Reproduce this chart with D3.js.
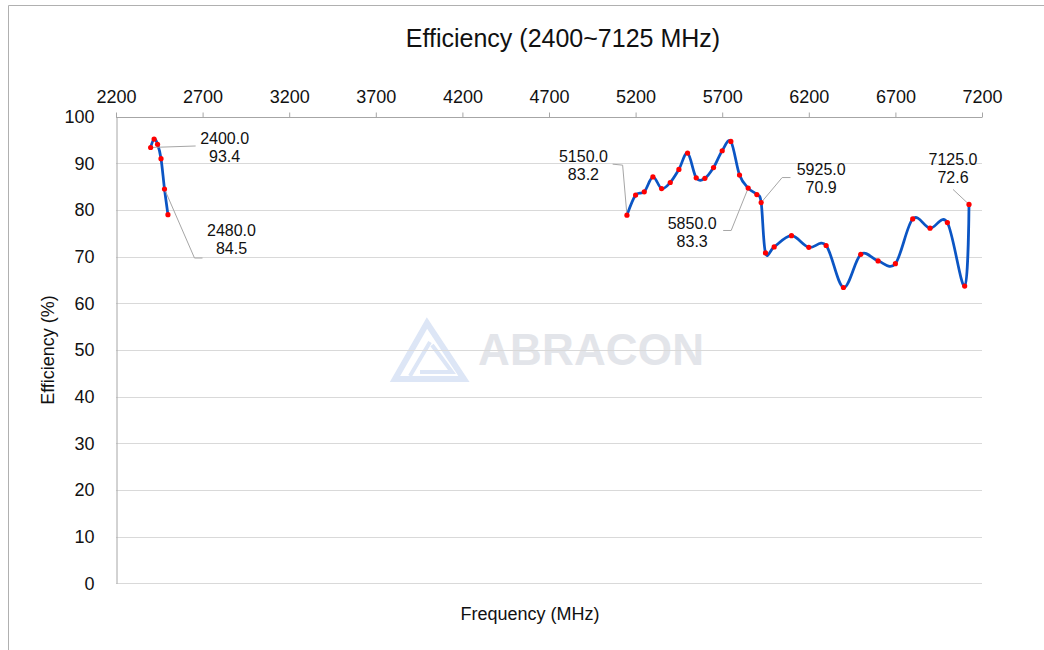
<!DOCTYPE html>
<html>
<head>
<meta charset="utf-8">
<script src="https://cdn.jsdelivr.net/npm/d3@7"></script>
<style>
  html, body { margin: 0; padding: 0; background: #fff; }
  svg { display: block; font-family: "Liberation Sans", Arial, sans-serif; }
</style>
</head>
<body>
<div id="chart"></div>
<script>
// 2.4 GHz band
const lowFreq = [2400, 2420, 2440, 2460, 2480, 2500]
const lowEff = [93.4, 95.2, 94.1, 91.0, 84.5, 79.0]

// 5-7 GHz band
const highFreq = [5150, 5200, 5250, 5300, 5350, 5400, 5450, 5500, 5550, 5600, 5650, 5700, 5750, 5800,
  5850, 5900, 5925, 5950, 6000, 6100, 6200, 6300, 6400, 6500, 6600, 6700, 6800, 6900, 7000, 7100, 7125]
const highEff = [78.9, 83.2, 83.9, 87.1, 84.6, 85.9, 88.7, 92.2, 86.9, 86.8, 89.1, 92.7, 94.7, 87.5,
  84.7, 83.3, 81.6, 70.8, 72.1, 74.5, 72.0, 72.4, 63.4, 70.5, 69.1, 68.5, 78.1, 76.1, 77.3, 63.7, 81.2]

const xTicks = [2200, 2700, 3200, 3700, 4200, 4700, 5200, 5700, 6200, 6700, 7200]
const yTicks = [0, 10, 20, 30, 40, 50, 60, 70, 80, 90, 100]

// data labels: which series / point they point at, and the text shown
const labelSeries = ['low', 'low', 'high', 'high', 'high', 'high']
const labelIndex = [0, 4, 0, 14, 16, 30]
const labelText = [['2400.0', '93.4'], ['2480.0', '84.5'], ['5150.0', '83.2'],
  ['5850.0', '83.3'], ['5925.0', '70.9'], ['7125.0', '72.6']]

// layout of the labels, in pixels relative to the point
const labelLayout = [
  { dx: 74, dy: 0, leader: [[45, -1.5]] },
  { dx: 67, dy: 50, leader: [[30, 69], [38, 69]] },
  { dx: -43.5, dy: -50, leader: [[-4.3, -50], [-14.3, -51]] },
  { dx: -56, dy: 44, leader: [[-17, 42.4], [-25, 42.4]] },
  { dx: 60, dy: -24.5, leader: [[21, -25], [29.3, -25]] },
  { dx: -16, dy: -35.6, leader: [[-16, -15]] },
]

const width = 1044
const height = 650
const lineColor = '#0b55c4'
const markerColor = '#ff0000'
const axeColor = '#a6a6a6'
const gridColor = '#d9d9d9'
const textColor = '#111111'

const svg = d3.select('#chart')
  .append('svg')
  .attr('width', width)
  .attr('height', height)

// frame
svg.append('path')
  .attr('d', `M8.5,${height} V5.5 H${width}`)
  .attr('fill', 'none')
  .attr('stroke', '#b0b0b0')
  .attr('stroke-width', 1)

const x = d3.scaleLinear().domain([2200, 7200]).range([116, 982])
const y = d3.scaleLinear().domain([0, 100]).range([583.3, 116.7])

// watermark
const wm = svg.append('g').attr('class', 'watermark')
wm.append('path')
  .attr('d', 'M427,323 L395,379 L464,379 Z')
  .attr('fill', 'none')
  .attr('stroke', '#dde6f6')
  .attr('stroke-width', 6)
  .attr('stroke-linejoin', 'miter')
wm.append('path')
  .attr('d', 'M430,342 L410,376 M432,345 L452,372 L420,372')
  .attr('fill', 'none')
  .attr('stroke', '#dde6f6')
  .attr('stroke-width', 4)
wm.append('text')
  .attr('x', 478)
  .attr('y', 365)
  .attr('font-size', 44)
  .attr('font-weight', 'bold')
  .attr('fill', '#e3e5ea')
  .attr('textLength', 226)
  .text('ABRACON')

// grid
svg.append('g')
  .selectAll('line')
  .data(yTicks.filter(d => d < 100))
  .join('line')
  .attr('x1', x(2200))
  .attr('x2', x(7200))
  .attr('y1', d => Math.round(y(d)) + 0.5)
  .attr('y2', d => Math.round(y(d)) + 0.5)
  .attr('stroke', gridColor)
  .attr('stroke-width', 1)

// top axis
const xAxis = svg.append('g')
  .attr('transform', `translate(0,${Math.round(y(100)) + 0.5})`)
  .call(d3.axisTop(x).tickValues(xTicks).tickSize(5).tickPadding(10).tickFormat(d3.format('d')))
xAxis.select('.domain').attr('stroke', axeColor).attr('d', `M${x(2200)},0H${x(7200)}`)
xAxis.selectAll('.tick line').attr('stroke', axeColor)
xAxis.selectAll('.tick text')
  .attr('fill', textColor)
  .attr('font-size', 18)
  .attr('font-family', '"Liberation Sans", Arial, sans-serif')

// left axis
const yAxis = svg.append('g')
  .attr('transform', `translate(${Math.round(x(2200)) + 0.5},0)`)
  .call(d3.axisLeft(y).tickValues(yTicks).tickSize(0).tickPadding(22))
yAxis.select('.domain').attr('stroke', axeColor)
yAxis.selectAll('.tick text')
  .attr('fill', textColor)
  .attr('font-size', 18)
  .attr('font-family', '"Liberation Sans", Arial, sans-serif')

// series
const series = {
  low: lowFreq.map((f, i) => ({ f, v: lowEff[i] })),
  high: highFreq.map((f, i) => ({ f, v: highEff[i] })),
}

const line = d3.line()
  .x(d => x(d.f))
  .y(d => y(d.v))
  .curve(d3.curveCardinal.tension(0))

Object.values(series).forEach(data => {
  svg.append('path')
    .datum(data)
    .attr('d', line)
    .attr('fill', 'none')
    .attr('stroke', lineColor)
    .attr('stroke-width', 2.75)
})

// leader lines and labels
labelText.forEach((lines, i) => {
  const p = series[labelSeries[i]][labelIndex[i]]
  const px = x(p.f)
  const py = y(p.v)
  const lay = labelLayout[i]
  const pts = [[px, py], ...lay.leader.map(([dx, dy]) => [px + dx, py + dy])]
  svg.append('path')
    .attr('d', d3.line()(pts))
    .attr('fill', 'none')
    .attr('stroke', '#a6a6a6')
    .attr('stroke-width', 1)
})

Object.values(series).forEach(data => {
  svg.append('g')
    .selectAll('circle')
    .data(data)
    .join('circle')
    .attr('cx', d => x(d.f))
    .attr('cy', d => y(d.v))
    .attr('r', 2.6)
    .attr('fill', markerColor)
})

labelText.forEach((lines, i) => {
  const p = series[labelSeries[i]][labelIndex[i]]
  const lay = labelLayout[i]
  const cx = x(p.f) + lay.dx
  const cy = y(p.v) + lay.dy
  svg.append('g')
    .selectAll('text')
    .data(lines)
    .join('text')
    .attr('x', cx)
    .attr('y', (d, k) => cy + (k - 0.5) * 18)
    .attr('text-anchor', 'middle')
    .attr('dominant-baseline', 'central')
    .attr('font-size', 16)
    .attr('fill', textColor)
    .text(d => d)
})

// titles
svg.append('text')
  .attr('x', 563)
  .attr('y', 38)
  .attr('text-anchor', 'middle')
  .attr('dominant-baseline', 'central')
  .attr('font-size', 25)
  .attr('fill', textColor)
  .text('Efficiency (2400~7125 MHz)')

svg.append('text')
  .attr('x', 530)
  .attr('y', 614)
  .attr('text-anchor', 'middle')
  .attr('dominant-baseline', 'central')
  .attr('font-size', 18)
  .attr('fill', textColor)
  .text('Frequency (MHz)')

svg.append('text')
  .attr('transform', `translate(48,${y(50)}) rotate(-90)`)
  .attr('text-anchor', 'middle')
  .attr('dominant-baseline', 'central')
  .attr('font-size', 18)
  .attr('fill', textColor)
  .text('Efficiency (%)')
</script>
</body>
</html>
